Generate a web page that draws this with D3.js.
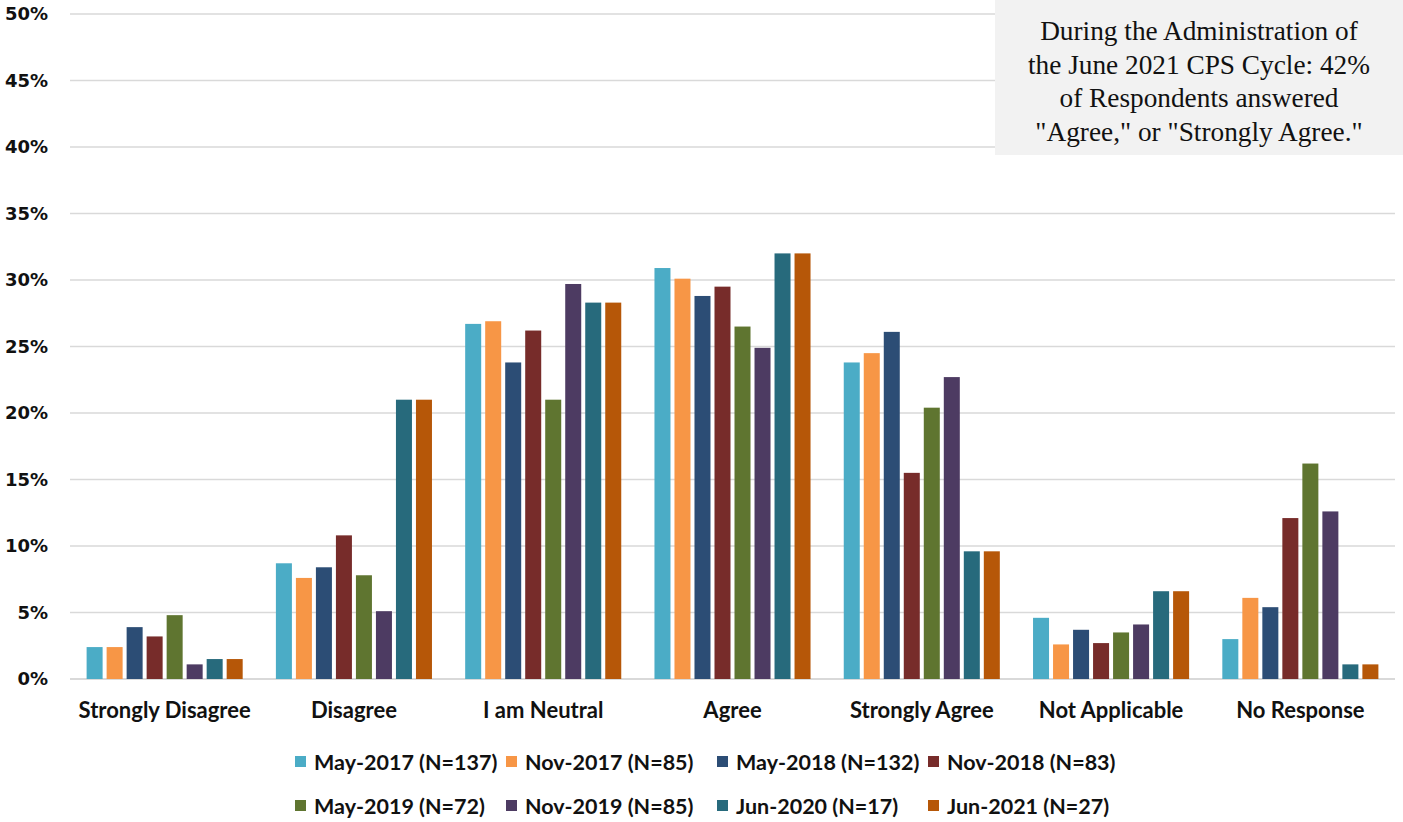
<!DOCTYPE html>
<html>
<head>
<meta charset="utf-8">
<script src="https://cdn.jsdelivr.net/npm/d3@7"></script>
<style>
  body { margin: 0; background: #fff; }
  svg { display: block; }
</style>
</head>
<body>
<div id="chart"></div>
<script>
// categories and series
var categories = ["Strongly Disagree", "Disagree", "I am Neutral", "Agree", "Strongly Agree", "Not Applicable", "No Response"];
var seriesNames = ["May-2017 (N=137)", "Nov-2017 (N=85)", "May-2018 (N=132)", "Nov-2018 (N=83)",
                   "May-2019 (N=72)", "Nov-2019 (N=85)", "Jun-2020 (N=17)", "Jun-2021 (N=27)"];
var colors = ["#4BACC6", "#F79646", "#2C4D75", "#772C2A", "#5F7530", "#4D3B62", "#276A7C", "#B65708"];

// percent values, one array per survey cycle (same order as categories)
var may2017 = [2.4, 8.7, 26.7, 30.9, 23.8, 4.6, 3.0];
var nov2017 = [2.4, 7.6, 26.9, 30.1, 24.5, 2.6, 6.1];
var may2018 = [3.9, 8.4, 23.8, 28.8, 26.1, 3.7, 5.4];
var nov2018 = [3.2, 10.8, 26.2, 29.5, 15.5, 2.7, 12.1];
var may2019 = [4.8, 7.8, 21.0, 26.5, 20.4, 3.5, 16.2];
var nov2019 = [1.1, 5.1, 29.7, 24.9, 22.7, 4.1, 12.6];
var jun2020 = [1.5, 21.0, 28.3, 32.0, 9.6, 6.6, 1.1];
var jun2021 = [1.5, 21.0, 28.3, 32.0, 9.6, 6.6, 1.1];
var seriesValues = [may2017, nov2017, may2018, nov2018, may2019, nov2019, jun2020, jun2021];

var yTicks = [0, 5, 10, 15, 20, 25, 30, 35, 40, 45, 50];

var noteLines = ["During the Administration of", "the June 2021 CPS Cycle: 42%",
                 "of Respondents answered", "\"Agree,\" or \"Strongly Agree.\""];

var W = 1403, H = 822;
var plot = {left: 70, right: 1395, top: 14, bottom: 679};

var svg = d3.select("#chart").append("svg")
  .attr("width", W)
  .attr("height", H);

var y = d3.scaleLinear()
  .domain([0, 50])
  .range([plot.bottom, plot.top]);

var x0 = d3.scaleBand()
  .domain(categories)
  .range([plot.left, plot.right])
  .padding(0);

var x1 = d3.scaleBand()
  .domain(seriesNames)
  .range([0, x0.bandwidth()])
  .paddingInner(0.2)
  .paddingOuter(0.83);

// gridlines
svg.append("g")
  .selectAll("line")
  .data(yTicks)
  .enter()
  .append("line")
    .attr("x1", plot.left)
    .attr("x2", plot.right)
    .attr("y1", function (d) { return y(d); })
    .attr("y2", function (d) { return y(d); })
    .style("stroke", "#d9d9d9")
    .style("stroke-width", function (d) { return d === 0 ? 2 : 1.5; });

// y axis labels
var yAxis = svg.append("g")
  .attr("transform", "translate(48,0)")
  .call(d3.axisLeft(y).tickValues(yTicks).tickSize(0).tickPadding(0)
    .tickFormat(function (d) { return d + "%"; }));
yAxis.select(".domain").remove();
yAxis.selectAll("text")
  .style("font-family", "'DejaVu Sans', sans-serif")
  .style("font-weight", "bold")
  .style("font-size", "18px")
  .style("fill", "#111");

// annotation box
var note = svg.append("g");
note.append("rect")
  .attr("x", 995)
  .attr("y", 0)
  .attr("width", W - 995)
  .attr("height", 155)
  .style("fill", "#f2f2f2");
note.selectAll("text")
  .data(noteLines)
  .enter()
  .append("text")
    .attr("x", 1199)
    .attr("y", function (d, i) { return 40 + i * 33.5; })
    .attr("text-anchor", "middle")
    .style("font-family", "'Liberation Serif', 'Times New Roman', serif")
    .style("font-size", "27.3px")
    .style("fill", "#111")
    .text(function (d) { return d; });

// bars
var groups = svg.append("g")
  .selectAll("g")
  .data(seriesNames)
  .enter()
  .append("g")
    .style("fill", function (d, i) { return colors[i]; });

groups.selectAll("rect")
  .data(function (s, i) {
    return categories.map(function (c, j) { return {series: s, cat: c, value: seriesValues[i][j]}; });
  })
  .enter()
  .append("rect")
    .attr("x", function (d) { return x0(d.cat) + x1(d.series); })
    .attr("y", function (d) { return y(d.value); })
    .attr("width", x1.bandwidth())
    .attr("height", function (d) { return y(0) - y(d.value); });

// category labels
var xAxis = svg.append("g")
  .attr("transform", "translate(0," + plot.bottom + ")")
  .call(d3.axisBottom(x0).tickSize(0).tickPadding(0));
xAxis.select(".domain").remove();
xAxis.selectAll("text")
  .attr("y", 39)
  .attr("dy", 0)
  .style("font-family", "Lato, sans-serif")
  .style("font-weight", "bold")
  .style("font-size", "22px")
  .style("fill", "#111");

// legend, two rows of four
var legend = svg.append("g")
  .selectAll("g")
  .data(seriesNames)
  .enter()
  .append("g")
    .attr("transform", function (d, i) {
      return "translate(" + (295 + (i % 4) * 211) + "," + (i < 4 ? 762 : 806) + ")";
    });
legend.append("rect")
  .attr("x", 0)
  .attr("y", -6)
  .attr("width", 11)
  .attr("height", 11)
  .style("fill", function (d, i) { return colors[i]; });
legend.append("text")
  .attr("x", 19)
  .attr("y", 7.5)
  .style("font-family", "Lato, sans-serif")
  .style("font-weight", "bold")
  .style("font-size", "21.5px")
  .style("fill", "#111")
  .text(function (d) { return d; });
</script>
</body>
</html>
